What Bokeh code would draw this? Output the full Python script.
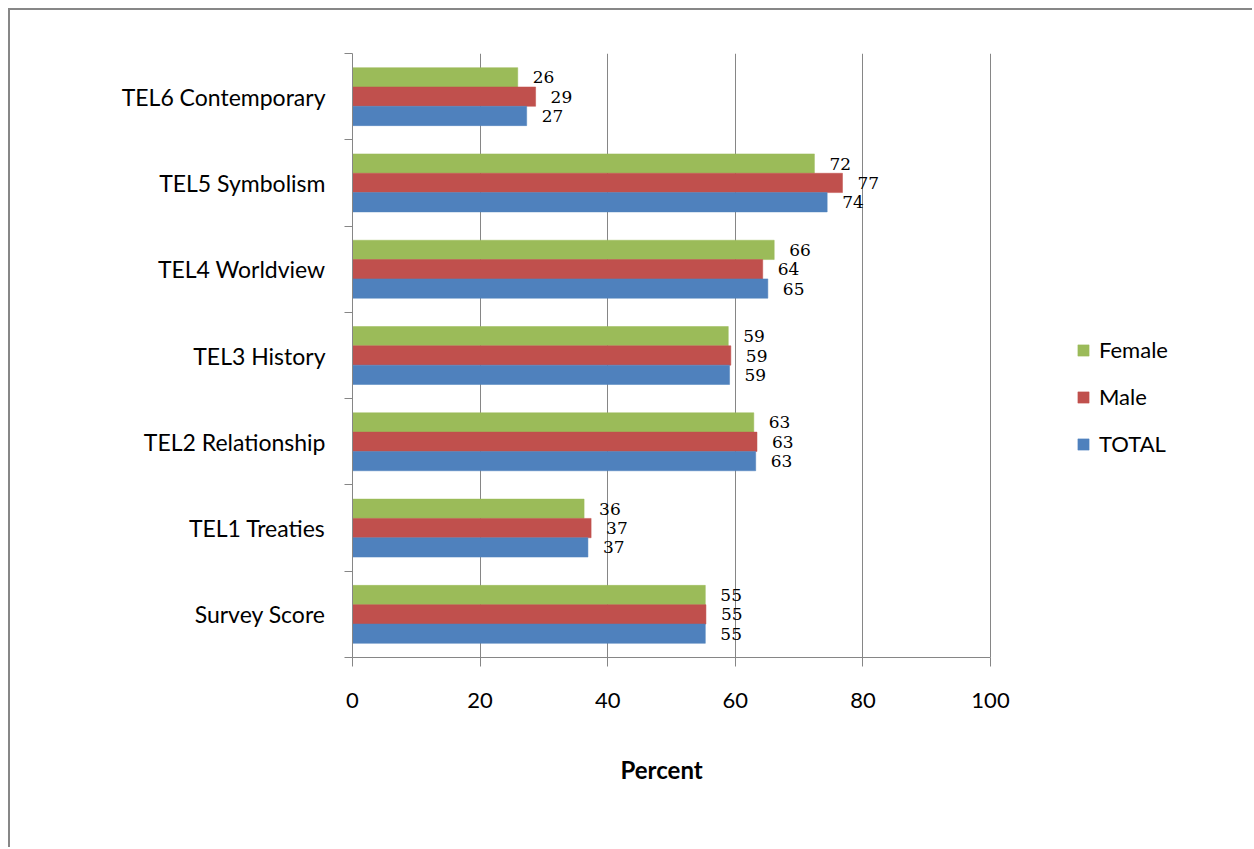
from bokeh.plotting import figure
from bokeh.models import ColumnDataSource, FixedTicker, Legend, LegendItem, Range1d, Title
from bokeh.embed import file_html
from bokeh.resources import INLINE
from bokeh.core.properties import value

categories = ["Survey Score", "TEL1 Treaties", "TEL2 Relationship", "TEL3 History",
              "TEL4 Worldview", "TEL5 Symbolism", "TEL6 Contemporary"]
total = [55.3, 36.9, 63.2, 59.1, 65.1, 74.4, 27.3]
male = [55.4, 37.4, 63.4, 59.3, 64.3, 76.8, 28.7]
female = [55.3, 36.3, 62.9, 58.9, 66.1, 72.4, 25.9]
x_ticks = [0, 20, 40, 60, 80, 100]

GREEN = "#9BBB59"
RED = "#C0504D"
BLUE = "#4F81BD"
GRAY = "#868686"
FONT = "Lato"

BAR_H = 0.224

# the frame runs on to the right edge of the page so that the legend can sit inside it;
# the axis and the grid stop at 100
X_END = 100 * (1254 - 352) / (990 - 352)

p = figure(width=1244, height=839, output_backend="svg", toolbar_location=None,
           x_range=Range1d(0, X_END), y_range=Range1d(-0.5, 6.5),
           min_border_left=342, min_border_right=0, min_border_top=43, min_border_bottom=192)
p.margin = (8, 0, 0, 8)
p.styles = {"border-top": "2px solid #878787", "border-left": "2px solid #878787"}
p.outline_line_color = None
p.background_fill_color = "white"
p.border_fill_color = "white"

series = [("Female", female, GREEN, BAR_H), ("Male", male, RED, 0.0), ("TOTAL", total, BLUE, -BAR_H)]
renderers = {}
for name, vals, color, off in series:
    src = ColumnDataSource(dict(
        y=[i + off for i in range(len(categories))],
        right=vals,
        lab=[f"{v:.0f}" for v in vals],
    ))
    r = p.hbar(y="y", right="right", left=0, height=BAR_H, source=src,
               fill_color=color, line_color=color, line_width=0.5)
    renderers[name] = r
    p.text(x="right", y="y", text="lab", source=src, x_offset=15,
           text_baseline="middle", text_align="left",
           text_font=value("DejaVu Serif"), text_font_size="17px", text_color="#000000")

# x axis
p.xaxis.ticker = FixedTicker(ticks=x_ticks)
p.xaxis.bounds = (0, 100)
p.xaxis.axis_line_color = GRAY
p.xaxis.major_tick_line_color = GRAY
p.xaxis.major_tick_out = 9
p.xaxis.major_tick_in = 0
p.xaxis.minor_tick_line_color = None
p.xaxis.major_label_text_font = FONT
p.xaxis.major_label_text_font_size = "22px"
p.xaxis.major_label_text_color = "#000000"
p.xaxis.major_label_standoff = 26

# axis title, centred under the 0-100 part of the axis
xtitle = Title(text="Percent", align="left", offset=620 - 352, standoff=85,
               text_font=FONT, text_font_size="24px", text_font_style="bold",
               text_color="#000000")
p.add_layout(xtitle, "below")

# y axis
p.yaxis.ticker = FixedTicker(ticks=list(range(len(categories))),
                             minor_ticks=[i - 0.5 for i in range(len(categories) + 1)])
p.yaxis.major_label_overrides = {i: c for i, c in enumerate(categories)}
p.yaxis.axis_line_color = GRAY
p.yaxis.major_tick_line_color = None
p.yaxis.major_tick_out = 0
p.yaxis.major_tick_in = 0
p.yaxis.minor_tick_line_color = GRAY
p.yaxis.minor_tick_out = 8
p.yaxis.minor_tick_in = 0
p.yaxis.major_label_text_font = FONT
p.yaxis.major_label_text_font_size = "23px"
p.yaxis.major_label_text_color = "#000000"
p.yaxis.major_label_standoff = 19

# grid
p.xgrid.ticker = FixedTicker(ticks=x_ticks)
p.xgrid.grid_line_color = GRAY
p.xgrid.grid_line_width = 1
p.ygrid.grid_line_color = None

legend = Legend(items=[LegendItem(label=n, renderers=[renderers[n]]) for n in ["Female", "Male", "TOTAL"]],
                location=(724, 200))
legend.glyph_width = 14
legend.glyph_height = 14
legend.label_text_font = FONT
legend.label_text_font_size = "22px"
legend.label_text_color = "#000000"
legend.label_height = 27
legend.spacing = 20
legend.label_standoff = 9
legend.padding = 10
legend.border_line_color = None
legend.background_fill_alpha = 0
p.add_layout(legend, "center")

open("out.html", "w").write(file_html(p, INLINE))
